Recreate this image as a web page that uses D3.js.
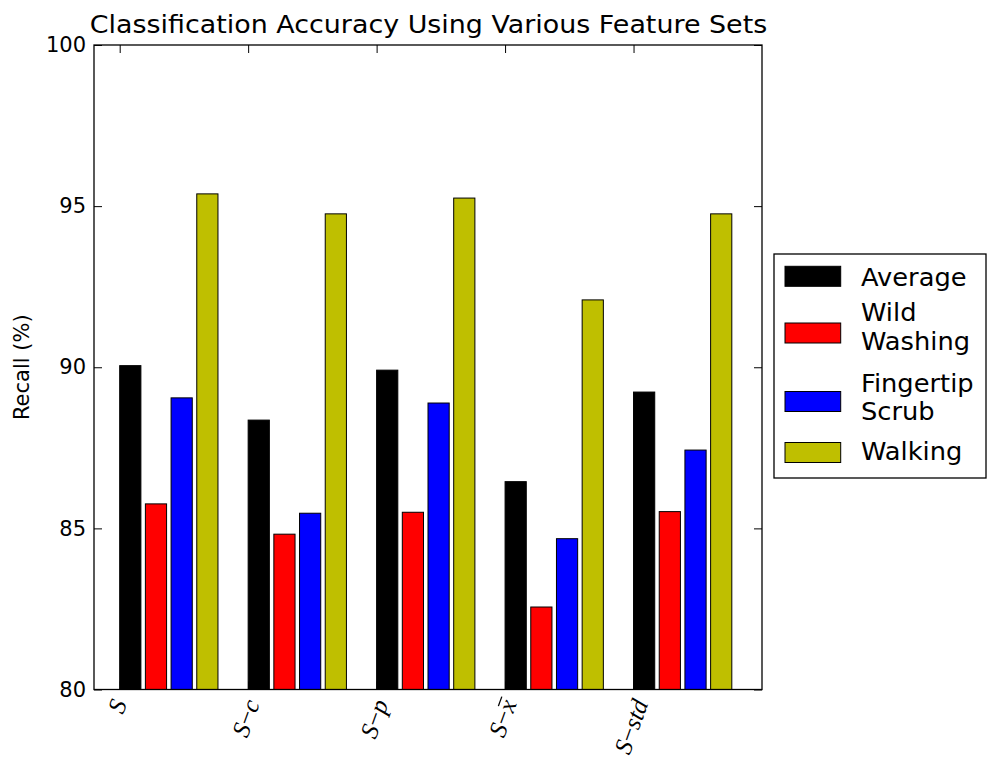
<!DOCTYPE html>
<html>
<head>
<meta charset="utf-8">
<script src="https://cdn.jsdelivr.net/npm/d3@7"></script>
<style>
  html, body { margin: 0; padding: 0; background: #fff; }
  svg { display: block; }
  text { font-family: "DejaVu Sans", sans-serif; fill: #000; }
</style>
</head>
<body>
<svg id="chart" width="987" height="764"></svg>
<script>
// ---------------- data ----------------
const categories = ["S", "S−c", "S−p", "S−x̄", "S−std"];
const seriesNames = ["Average", "Wild\nWashing", "Fingertip\nScrub", "Walking"];
const seriesColors = ["#000000", "#ff0000", "#0000ff", "#bfbf00"];
const average        = [90.05, 88.36, 89.91, 86.45, 89.23];
const wildWashing    = [85.76, 84.82, 85.50, 82.56, 85.52];
const fingertipScrub = [89.05, 85.47, 88.89, 84.68, 87.43];
const walking        = [95.38, 94.76, 95.25, 92.09, 94.76];
const yTicks = [80, 85, 90, 95, 100];
const titleText = "Classification Accuracy Using Various Feature Sets";
const yLabelText = "Recall (%)";

const seriesValues = [average, wildWashing, fingertipScrub, walking];

// ---------------- layout ----------------
const svg = d3.select("#chart");
const plot = { left: 94, right: 762, top: 45, bottom: 689.5 };
const barStep = 0.2, barWidth = 0.165;

const x = d3.scaleLinear().domain([-0.2, 5.0]).range([plot.left, plot.right]);
const y = d3.scaleLinear().domain([80, 100]).range([plot.bottom, plot.top]);

// bars
const g = svg.append("g");
seriesValues.forEach((vals, k) => {
  g.selectAll(null)
    .data(vals)
    .enter()
    .append("rect")
    .attr("x", (d, i) => x(i + k * barStep))
    .attr("y", d => y(d))
    .attr("width", x(barWidth) - x(0))
    .attr("height", d => y(80) - y(d))
    .attr("fill", seriesColors[k])
    .attr("stroke", "#000")
    .attr("stroke-width", 1);
});

// frame
svg.append("rect")
  .attr("x", plot.left).attr("y", plot.top)
  .attr("width", plot.right - plot.left).attr("height", plot.bottom - plot.top)
  .attr("fill", "none").attr("stroke", "#000").attr("stroke-width", 1.3);

// y axis (left) and right ticks, inward
const tickLen = 8;
const yAxisL = d3.axisLeft(y).tickValues(yTicks).tickSize(-tickLen).tickPadding(8).tickFormat(d3.format("d"));
const yl = svg.append("g").attr("transform", `translate(${plot.left},0)`).call(yAxisL);
yl.select(".domain").remove();
yl.selectAll("line").attr("stroke", "#000").attr("stroke-width", 1);
yl.selectAll("text").style("font-family", "DejaVu Sans").style("font-size", "21px").attr("fill", "#000");

const yAxisR = d3.axisRight(y).tickValues(yTicks).tickSize(-tickLen).tickFormat("");
const yr = svg.append("g").attr("transform", `translate(${plot.right},0)`).call(yAxisR);
yr.select(".domain").remove();
yr.selectAll("line").attr("stroke", "#000").attr("stroke-width", 1);

// x ticks top/bottom inward
const xTickVals = d3.range(categories.length);
const xAxisB = d3.axisBottom(x).tickValues(xTickVals).tickSize(-tickLen).tickFormat("");
const xb = svg.append("g").attr("transform", `translate(0,${plot.bottom})`).call(xAxisB);
xb.select(".domain").remove();
xb.selectAll("line").attr("stroke", "#000");
const xAxisT = d3.axisTop(x).tickValues(xTickVals).tickSize(-tickLen).tickFormat("");
const xt = svg.append("g").attr("transform", `translate(0,${plot.top})`).call(xAxisT);
xt.select(".domain").remove();
xt.selectAll("line").attr("stroke", "#000");

// x tick labels (math style, rotated 70deg)
const angle = 70, rad = angle * Math.PI / 180;
const labelFont = 25;
categories.forEach((c, i) => {
  const lg = svg.append("g");
  const t = lg.append("text")
    .attr("text-anchor", "middle")
    .attr("dominant-baseline", "central")
    .style("font-family", "'Liberation Serif', 'DejaVu Serif', serif")
    .style("font-size", labelFont + "px");
  const parts = c.split("−");
  let barCharIndex = -1, charCount = 0;
  parts.forEach((p, j) => {
    if (j > 0) { t.append("tspan").style("font-style", "normal").text("−"); charCount += 1; }
    let txt = p;
    if (p.includes("\u0304")) {
      txt = p.replace("\u0304", "");
      barCharIndex = charCount + txt.length - 1;
    }
    t.append("tspan").style("font-style", "italic").text(txt);
    charCount += txt.length;
  });
  if (barCharIndex >= 0) {
    const s = t.node().getStartPositionOfChar(barCharIndex);
    const e = t.node().getEndPositionOfChar(barCharIndex);
    lg.append("line")
      .attr("x1", s.x + 2).attr("x2", e.x + 1)
      .attr("y1", -labelFont * 0.3).attr("y2", -labelFont * 0.3)
      .attr("stroke", "#000").attr("stroke-width", 1.3);
  }
  const w = t.node().getComputedTextLength();
  const h = labelFont * 0.85;
  const H = w * Math.sin(rad) + h * Math.cos(rad);
  const cx = x(i) - 3;
  const cy = plot.bottom + 7 + H / 2;
  lg.attr("transform", `translate(${cx},${cy}) rotate(${-angle})`);
});

// title
svg.append("text")
  .attr("transform", `translate(${(plot.left + plot.right) / 2 + 0.5},33) scale(1.055,1)`)
  .attr("text-anchor", "middle")
  .style("font-size", "25.5px")
  .text(titleText);

// y label
svg.append("text")
  .attr("transform", `translate(29,${(plot.top + plot.bottom) / 2}) rotate(-90)`)
  .attr("text-anchor", "middle")
  .style("font-size", "21px")
  .text(yLabelText);

// legend
const leg = { x: 774, y: 254, w: 212, h: 224 };
svg.append("rect")
  .attr("x", leg.x).attr("y", leg.y).attr("width", leg.w).attr("height", leg.h)
  .attr("fill", "#fff").attr("stroke", "#000").attr("stroke-width", 1.3);
const legRows = [
  { patchCy: 22.3, baselines: [32] },
  { patchCy: 79,   baselines: [67, 96] },
  { patchCy: 147.5, baselines: [138, 166] },
  { patchCy: 198.5, baselines: [206] }
];
seriesNames.forEach((name, k) => {
  const row = legRows[k];
  svg.append("rect")
    .attr("x", leg.x + 11).attr("y", leg.y + row.patchCy - 10)
    .attr("width", 55.7).attr("height", 20)
    .attr("fill", seriesColors[k]).attr("stroke", "#000").attr("stroke-width", 1);
  name.split("\n").forEach((line, j) => {
    svg.append("text")
      .attr("transform", `translate(${leg.x + 87},${leg.y + row.baselines[j]}) scale(1.05,1)`)
      .style("font-size", "24.5px")
      .text(line);
  });
});
</script>
</body>
</html>
